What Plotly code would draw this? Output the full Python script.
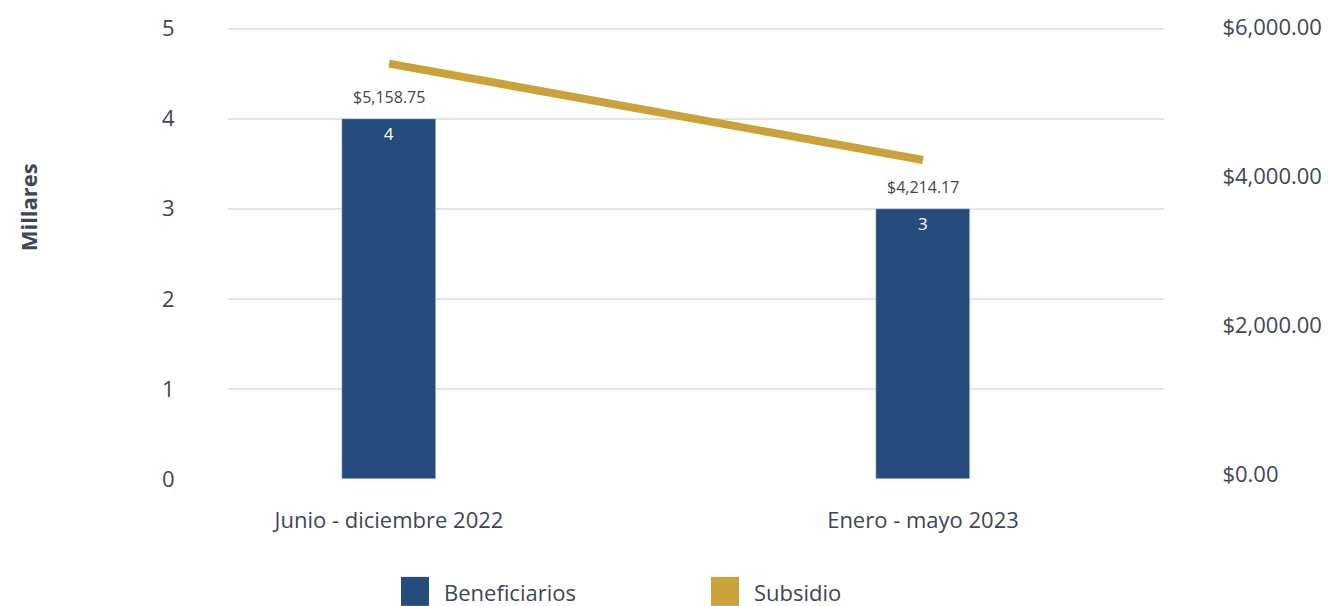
import plotly.graph_objects as go

# ---- data ----
categorias = ["Junio - diciembre 2022", "Enero - mayo 2023"]
beneficiarios = [4, 3]                      # miles
subsidio_linea = [5515, 4220]
subsidio_etiquetas = ["$5,158.75", "$4,214.17"]
ticks_izq = [0, 1, 2, 3, 4, 5]
ticks_der = [0, 2000, 4000, 6000]
ticks_der_txt = ["$0.00", "$2,000.00", "$4,000.00", "$6,000.00"]

AZUL = "#254C7D"
ORO = "#C9A23A"
TXT = "#3F4656"
GRID = "#E4E4EA"
FONT = "Open Sans"

OFF = 8  # page body margin
W, H = 1335 - OFF, 606 - OFF
PL, PR, PT, PB = 228, 1164, 23.5, 479   # plot area in window pixels
L, R, T, B = PL - OFF, 1335 - PR, PT - OFF, 606 - PB
PW, PH = PR - PL, PB - PT

def px(x):
    return (x - PL) / PW

def py(y):
    return (PB - y) / PH

fig = go.Figure()

fig.add_trace(go.Bar(
    x=categorias, y=beneficiarios, name="Beneficiarios",
    marker_color=AZUL, width=0.176,
    text=[str(v) for v in beneficiarios], textposition="inside",
    insidetextanchor="end", textangle=0,
    textfont=dict(color="white", size=17, family=FONT),
    showlegend=False, yaxis="y",
))

fig.add_trace(go.Scatter(
    x=categorias, y=subsidio_linea, name="Subsidio", mode="lines",
    line=dict(color=ORO, width=8), yaxis="y2", showlegend=False,
))

for c, v, t in zip(categorias, beneficiarios, subsidio_etiquetas):
    fig.add_annotation(x=c, y=v, xref="x", yref="y", text=t, showarrow=False,
                       yanchor="middle", yshift=22,
                       font=dict(size=16, color=TXT, family=FONT))

# axis title
fig.add_annotation(x=px(28), y=py(207), xref="paper", yref="paper",
                   xanchor="center", yanchor="middle",
                   text="<b>Millares</b>", textangle=-90, showarrow=False,
                   font=dict(size=22, color=TXT, family=FONT))

# custom legend
for x0, col, lab in [(401, AZUL, "Beneficiarios"), (711, ORO, "Subsidio")]:
    fig.add_shape(type="rect", xref="paper", yref="paper",
                  x0=px(x0), x1=px(x0 + 28), y0=py(606), y1=py(577),
                  fillcolor=col, line_width=0)
    fig.add_annotation(x=px(x0 + 41), y=py(592), xref="paper", yref="paper",
                       text=lab, showarrow=False, xanchor="left", yanchor="middle",
                       font=dict(size=22, color=TXT, family=FONT))

fig.update_layout(
    width=W, height=H,
    margin=dict(l=L, r=R, t=T, b=B, autoexpand=False),
    paper_bgcolor="white", plot_bgcolor="white",
    font=dict(family=FONT, color=TXT, size=22),
    xaxis=dict(type="category", range=[-0.3015, 1.4513], showgrid=False,
               showline=False, zeroline=False, ticks="outside", ticklen=22,
               tickcolor="rgba(0,0,0,0)", tickfont=dict(size=22), automargin=False),
    yaxis=dict(range=[0, 5.05], tickvals=ticks_izq, showgrid=True, gridcolor=GRID,
               gridwidth=2, zeroline=False, showline=False, ticks="outside",
               ticklen=48, tickcolor="rgba(0,0,0,0)", tickfont=dict(size=22),
               automargin=False),
    yaxis2=dict(overlaying="y", side="right", range=[-67, 6047],
                tickvals=ticks_der, ticktext=ticks_der_txt, showgrid=False,
                zeroline=False, showline=False, ticks="outside", ticklen=53,
                tickcolor="rgba(0,0,0,0)", tickfont=dict(size=22), automargin=False),
    bargap=0,
)

fig.write_html("out.html")
